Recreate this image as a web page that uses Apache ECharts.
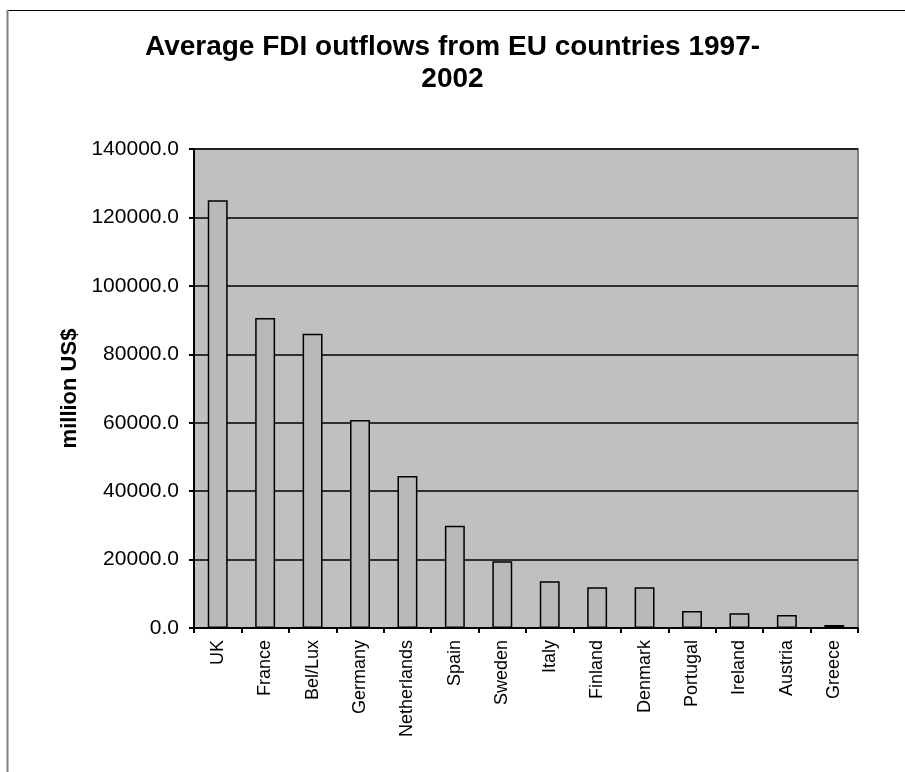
<!DOCTYPE html>
<html>
<head>
<meta charset="utf-8">
<script src="https://cdn.jsdelivr.net/npm/echarts@6/dist/echarts.min.js"></script>
<style>
  html, body { margin: 0; padding: 0; background: #ffffff; }
  #chart { width: 905px; height: 772px; }
</style>
</head>
<body>
<div id="chart"></div>
<script>
// Average FDI outflows per EU country, 1997-2002 (million US$)
const countries = ['UK', 'France', 'Bel/Lux', 'Germany', 'Netherlands', 'Spain', 'Sweden',
  'Italy', 'Finland', 'Denmark', 'Portugal', 'Ireland', 'Austria', 'Greece'];
const outflows = [125000, 90600, 86000, 60800, 44400, 29900, 19500,
  13700, 11900, 11900, 5000, 4300, 3800, 900];
const yTicks = { min: 0, max: 140000, interval: 20000 };

const FONT = '"Liberation Sans", Arial, sans-serif';
const chart = echarts.init(document.getElementById('chart'), null, { renderer: 'canvas' });

chart.setOption({
  backgroundColor: '#ffffff',
  animation: false,
  title: {
    text: 'Average FDI outflows from EU countries 1997-\n2002',
    left: 'center',
    top: 26,
    textStyle: { fontFamily: FONT, fontWeight: 'bold', fontSize: 28, color: '#000', lineHeight: 32 }
  },
  graphic: [
    { type: 'line', shape: { x1: 7, y1: 10.5, x2: 905, y2: 10.5 }, style: { stroke: '#000', lineWidth: 1 } },
    { type: 'line', shape: { x1: 7.5, y1: 10, x2: 7.5, y2: 772 }, style: { stroke: '#808080', lineWidth: 2 } }
  ],
  grid: {
    left: 194, right: 47, top: 149, bottom: 144,
    show: true, backgroundColor: '#c0c0c0', borderColor: '#808080', borderWidth: 2
  },
  xAxis: {
    type: 'category',
    data: countries,
    boundaryGap: true,
    axisLine: { lineStyle: { color: '#000', width: 2 } },
    axisTick: { show: true, alignWithLabel: false, length: 5, lineStyle: { color: '#000', width: 2 } },
    axisLabel: { rotate: 90, margin: 12, fontFamily: FONT, fontSize: 18, color: '#000', interval: 0 }
  },
  yAxis: {
    type: 'value',
    min: yTicks.min, max: yTicks.max, interval: yTicks.interval,
    name: 'million US$',
    nameLocation: 'middle',
    nameGap: 112,
    nameTextStyle: { fontFamily: FONT, fontWeight: 'bold', fontSize: 22, color: '#000' },
    axisLine: { show: true, lineStyle: { color: '#000', width: 2 } },
    axisTick: { show: true, length: 5, lineStyle: { color: '#000', width: 2 } },
    axisLabel: {
      margin: 15, fontFamily: FONT, fontSize: 21, color: '#000',
      formatter: v => v.toFixed(1)
    },
    splitLine: { show: true, lineStyle: { color: '#000', width: 1.5 } }
  },
  series: [{
    type: 'bar',
    data: outflows,
    barWidth: '42%',
    itemStyle: { color: '#b9b9b9', borderColor: '#000', borderWidth: 1.5 }
  }]
});
</script>
</body>
</html>
